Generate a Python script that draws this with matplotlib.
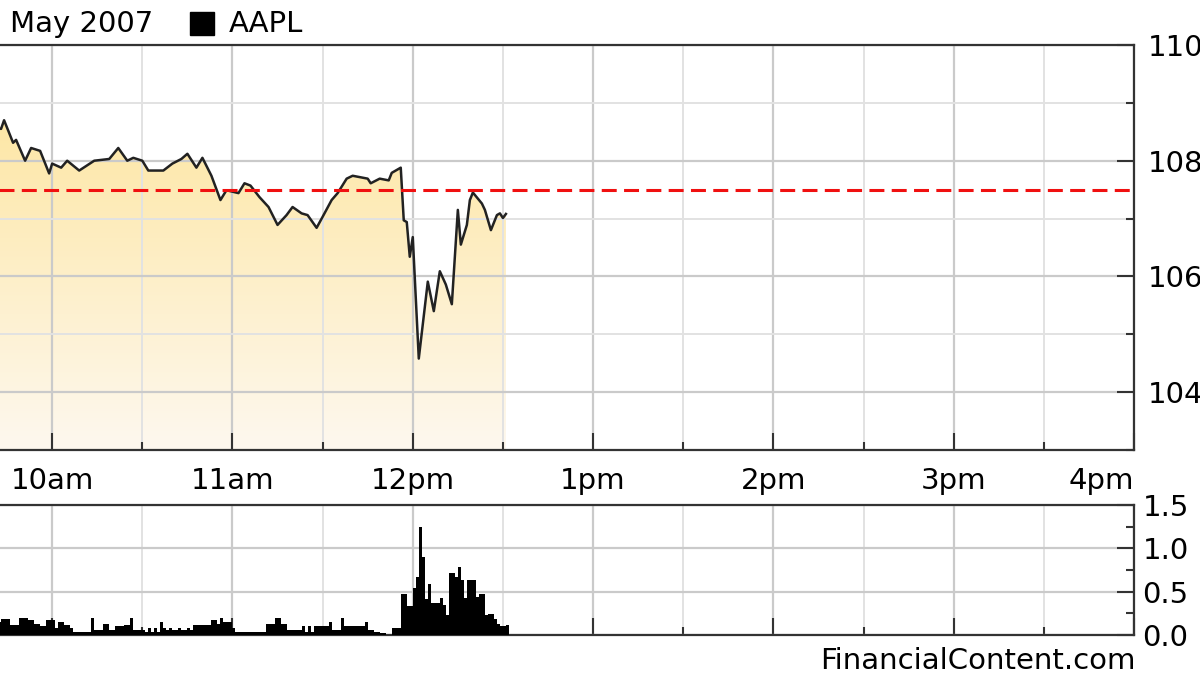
import numpy as np
import matplotlib
matplotlib.use("Agg")
import matplotlib.pyplot as plt
from matplotlib.colors import LinearSegmentedColormap
from matplotlib.patches import Rectangle
from matplotlib.ticker import MultipleLocator, FixedLocator

# AAPL intraday prices
price_times = ["9:31", "9:34", "9:39", "9:43", "9:44", "9:47", "9:48", "9:51", "9:53", "9:56",
               "9:59", "10:00", "10:03", "10:05", "10:09", "10:14", "10:19", "10:22", "10:25", "10:27",
               "10:30", "10:32", "10:37", "10:40", "10:43", "10:45", "10:48", "10:50", "10:53", "10:56",
               "10:58", "11:02", "11:04", "11:06", "11:09", "11:12", "11:15", "11:18", "11:20", "11:23",
               "11:25", "11:28", "11:30", "11:33", "11:35", "11:38", "11:40", "11:45", "11:46", "11:49",
               "11:52", "11:53", "11:56", "11:57", "11:58", "11:59", "12:00", "12:02", "12:05", "12:07",
               "12:09", "12:11", "12:13", "12:15", "12:16", "12:18", "12:19", "12:20", "12:23", "12:24",
               "12:26", "12:28", "12:29", "12:30", "12:31"]
prices = [108.90, 109.00, 108.60, 108.55, 108.70, 108.31, 108.36, 108.00, 108.22, 108.17,
          107.78, 107.95, 107.88, 108.00, 107.83, 108.00, 108.03, 108.22, 108.00, 108.05,
          108.00, 107.83, 107.83, 107.95, 108.03, 108.12, 107.88, 108.05, 107.74, 107.32,
          107.49, 107.44, 107.61, 107.57, 107.37, 107.20, 106.89, 107.06, 107.20, 107.09,
          107.06, 106.84, 107.03, 107.32, 107.44, 107.69, 107.74, 107.69, 107.61, 107.69,
          107.66, 107.79, 107.88, 106.97, 106.94, 106.34, 106.68, 104.58, 105.91, 105.40,
          106.09, 105.86, 105.52, 107.15, 106.55, 106.89, 107.32, 107.45, 107.26, 107.15,
          106.80, 107.06, 107.09, 107.01, 107.08]
prev_close = 107.49

# per-minute volume (millions) from 9:30
volume = [0.35, 0.30, 0.25, 0.22, 0.20, 0.18, 0.20, 0.15, 0.17, 0.20, 0.16, 0.18, 0.15,
          0.19, 0.19, 0.19, 0.12, 0.12, 0.12, 0.20, 0.20, 0.20,
          0.17, 0.17, 0.13, 0.13, 0.10, 0.10, 0.17, 0.17, 0.17,
          0.08, 0.15, 0.15, 0.12, 0.12, 0.08, 0.04, 0.04, 0.04, 0.04, 0.04, 0.04,
          0.20, 0.06, 0.06, 0.06, 0.13, 0.13, 0.06, 0.06, 0.10, 0.10, 0.10, 0.12, 0.12, 0.20,
          0.06, 0.06, 0.06, 0.06, 0.04, 0.08, 0.04, 0.08, 0.04, 0.15,
          0.08, 0.06, 0.08, 0.06, 0.06, 0.08, 0.06, 0.06, 0.08, 0.06,
          0.12, 0.12, 0.12, 0.12, 0.12, 0.12, 0.17, 0.17, 0.13, 0.20, 0.15, 0.15, 0.15, 0.08,
          0.04, 0.04, 0.04, 0.04, 0.04, 0.04, 0.04, 0.04, 0.04, 0.04,
          0.13, 0.13, 0.13, 0.20, 0.20, 0.13, 0.13, 0.06, 0.06, 0.06, 0.06, 0.06,
          0.10, 0.04, 0.10, 0.04, 0.10, 0.10, 0.10, 0.10, 0.10, 0.15, 0.06, 0.06, 0.06, 0.20,
          0.10, 0.10, 0.10, 0.10, 0.10, 0.10, 0.10, 0.15, 0.06, 0.06, 0.04, 0.04, 0.02, 0.02,
          0.00, 0.00, 0.08, 0.08, 0.08,
          0.47, 0.47, 0.33, 0.33, 0.54, 0.67, 1.25, 0.90, 0.42, 0.59, 0.37, 0.37, 0.37, 0.43,
          0.35, 0.23,
          0.71, 0.71, 0.67, 0.78, 0.63, 0.43, 0.63, 0.63, 0.63, 0.44, 0.47, 0.47, 0.23, 0.24,
          0.24, 0.19, 0.13, 0.10, 0.10, 0.12]

hour_ticks = [10, 11, 12, 13, 14, 15, 16]
hour_labels = ["10am", "11am", "12pm", "1pm", "2pm", "3pm", "4pm"]

# convert "H:MM" to decimal hours
t = np.array([int(s.split(":")[0]) + int(s.split(":")[1]) / 60 for s in price_times])
p = np.array(prices)
vol_edges = 9.5 + np.arange(len(volume) + 1) / 60

FS = 21
SPINE = "#333333"
W, H = 1200, 675

fig = plt.figure(figsize=(12, 6.75), dpi=100)
fig.patch.set_facecolor("white")
ax = fig.add_axes([-38 / W, (H - 450) / H, 1172 / W, 405 / H])
axv = fig.add_axes([-38 / W, (H - 635) / H, 1172 / W, 130 / H])

# price panel: gradient fill under the line
poly = ax.fill_between(t, p, 103, color="none", lw=0)
cmap = LinearSegmentedColormap.from_list("fill", ["#fef8ef", "#fde6a2"])
grad = np.linspace(0, 1, 256).reshape(-1, 1)
im = ax.imshow(grad, extent=[t[0], t[-1], 103, p.max()], origin="lower",
               aspect="auto", cmap=cmap, zorder=0.2)
im.set_clip_path(poly.get_paths()[0], transform=ax.transData)
ax.plot(t, p, color="#222222", lw=1.8, zorder=3)
ax.axhline(prev_close, color="#f01010", lw=2.2, ls=(0, (4.9, 2.4)), zorder=4)

ax.set_xlim(9.5, 16)
ax.set_ylim(103, 110)

# volume panel
axv.stairs(volume, vol_edges, fill=True, color="black", lw=0, zorder=3)
axv.set_xlim(9.5, 16)
axv.set_ylim(0, 1.5)

for a in (ax, axv):
    a.set_facecolor("white")
    a.set_axisbelow(True)
    a.xaxis.set_major_locator(FixedLocator(hour_ticks))
    a.xaxis.set_minor_locator(MultipleLocator(0.5))
    a.yaxis.tick_right()
    a.grid(which="major", color="#cacaca", lw=1.6)
    a.tick_params(which="major", direction="in", length=12.5, width=1.5, color=SPINE,
                  labelsize=FS, top=False, left=False, right=True)
    a.tick_params(which="minor", direction="in", length=5.5, width=1.5, color=SPINE,
                  top=False, left=False, right=True)
    for s in a.spines.values():
        s.set_color(SPINE)
        s.set_linewidth(1.6)

ax.grid(which="minor", color="#e2e2e2", lw=1.4)
axv.grid(which="minor", axis="x", color="#e2e2e2", lw=1.4)

ax.yaxis.set_major_locator(MultipleLocator(2))
ax.yaxis.set_minor_locator(MultipleLocator(1))
ax.set_xticklabels(hour_labels)
ax.get_xticklabels()[-1].set_ha("right")
ax.tick_params(axis="x", which="major", pad=12)
ax.tick_params(axis="y", which="major", pad=10)

axv.yaxis.set_major_locator(MultipleLocator(0.5))
axv.yaxis.set_minor_locator(MultipleLocator(0.25))
axv.set_yticks([0, 0.5, 1.0, 1.5])
axv.set_yticklabels(["0.0", "0.5", "1.0", "1.5"])
axv.tick_params(axis="y", which="major", pad=6)
axv.set_xticklabels([])

# header and credit
fig.text(10 / W, 1 - 24 / H, "May 2007", fontsize=FS, va="center", ha="left")
fig.add_artist(Rectangle((190 / W, 1 - 35 / H), 24 / W, 23 / H,
                         transform=fig.transFigure, color="black"))
fig.text(229 / W, 1 - 24 / H, "AAPL", fontsize=FS, va="center", ha="left")
fig.text(1136 / W, 1 - 661 / H, "FinancialContent.com", fontsize=FS,
         va="center", ha="right")

fig.savefig("out.png", dpi=100)
